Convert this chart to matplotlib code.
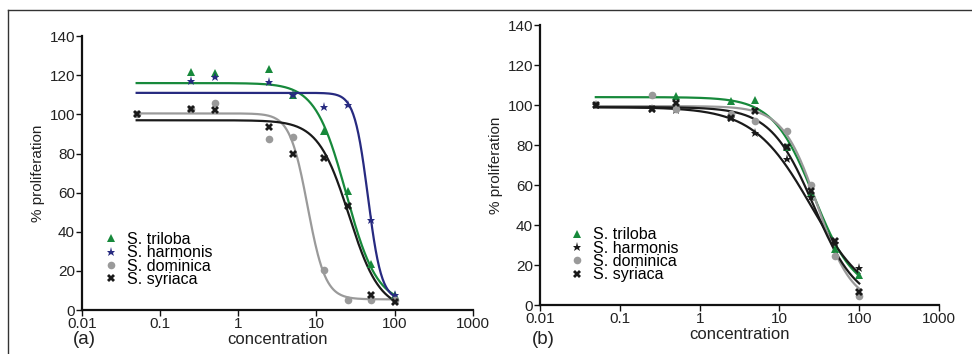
import matplotlib
matplotlib.use("Agg")
import matplotlib.pyplot as plt
from matplotlib.lines import Line2D
from matplotlib.ticker import FixedLocator, FuncFormatter
import numpy as np

plt.rcParams['font.family'] = ['Liberation Sans', 'DejaVu Sans']

concentration = [0.05, 0.25, 0.5, 2.5, 5, 12.5, 25, 50, 100]
species = ["S. triloba", "S. harmonis", "S. dominica", "S. syriaca"]

# panel (a) measured points
a_triloba = [None, 121.5, 121, 123, 110, 91.5, 61, 23.5, 7.5]
a_harmonis = [None, 117, 119, 116.5, 110, 104, 104.6, 46, 7.5]
a_dominica = [100, 103, 106, 87.6, 88.4, 20.4, 5.4, 5, 5]
a_syriaca = [100, 103, 102.4, 93.5, 80, 77.7, 53, 7.6, 4.3]

# panel (b) measured points
b_triloba = [None, None, 104.7, 102, 102.5, 79, 56, 28, 15]
b_harmonis = [100, 98, 97.5, 93.5, 86, 73, 54, 31, 18.5]
b_dominica = [None, 105, 98, 95.5, 92, 87, 60, 24.5, 4.5]
b_syriaca = [100, 98, 101, 93.5, 97, 79, 57, 32, 6.5]

# fitted dose-response parameters: top, bottom, ec50, hill
a_fits = [(116, 3, 24, 2.2), (111, 5, 45.5, 5.0), (100.5, 5.5, 7.7, 3.8), (97, 0, 26, 2.2)]
b_fits = [(104, 5, 27, 1.7), (99, 0, 25, 1.2), (99.5, 0, 30, 2.0), (99, 0, 27, 1.6)]

colors_a = ["#17893b", "#272a80", "#9a9a9a", "#1a1a1a"]
colors_b = ["#17893b", "#1a1a1a", "#9a9a9a", "#1a1a1a"]
markers = ["^", "*", "o", "X"]
msizes = [5.5, 6.5, 5.5, 5.5]


def logistic(x, top, bottom, ec50, hill):
    return bottom + (top - bottom) / (1 + (x / ec50) ** hill)


def draw_panel(ax, points, fits, colors):
    xs = np.logspace(np.log10(concentration[0]), np.log10(concentration[-1]), 300)
    for ys, fit, c, m, ms, name in zip(points, fits, colors, markers, msizes, species):
        ax.plot(xs, logistic(xs, *fit), color=c, lw=1.6, zorder=2)
        px = [x for x, y in zip(concentration, ys) if y is not None]
        py = [y for y in ys if y is not None]
        ax.plot(px, py, linestyle="none", marker=m, color=c, markersize=ms,
                markeredgewidth=0, label=name, zorder=3)

    ax.set_xscale("log")
    ax.set_xlim(0.01, 1000)
    ax.set_ylim(0, 140)
    ax.xaxis.set_major_locator(FixedLocator([0.01, 0.1, 1, 10, 100, 1000]))
    ax.xaxis.set_minor_locator(FixedLocator([]))
    ax.xaxis.set_major_formatter(FuncFormatter(lambda v, p: f"{v:g}"))
    ax.set_yticks(range(0, 141, 20))
    for s in ["top", "right"]:
        ax.spines[s].set_visible(False)
    for s in ["left", "bottom"]:
        ax.spines[s].set_linewidth(1.6)
        ax.spines[s].set_color("#111111")
    ax.tick_params(axis="both", labelsize=11, length=4, width=1, color="#111111",
                   labelcolor="#222222", pad=1)
    ax.set_xlabel("concentration", fontsize=12, color="#222222", labelpad=1)
    ax.set_ylabel("% proliferation", fontsize=11, color="#222222", labelpad=3)


fig = plt.figure(figsize=(9.72, 3.54), dpi=100)
ax_a = fig.add_axes([0.0844, 0.124, 0.402, 0.774])
ax_b = fig.add_axes([0.5556, 0.138, 0.4105, 0.791])

draw_panel(ax_a, [a_triloba, a_harmonis, a_dominica, a_syriaca], a_fits, colors_a)
draw_panel(ax_b, [b_triloba, b_harmonis, b_dominica, b_syriaca], b_fits, colors_b)

for ax, anchor in [(ax_a, (0.106, 0.345)), (ax_b, (0.585, 0.358))]:
    ax.legend(loc="upper left", bbox_to_anchor=anchor, bbox_transform=fig.transFigure,
              frameon=False, fontsize=11.5, handlelength=1.0, handletextpad=0.5,
              labelspacing=-0.1, borderpad=0, borderaxespad=0)

fig.text(0.087, 0.04, "(a)", fontsize=13.5, ha="center", va="center", color="#222222")
fig.text(0.559, 0.04, "(b)", fontsize=13.5, ha="center", va="center", color="#222222")

# outer frame (left and top edges visible)
fig.add_artist(Line2D([0.0082, 0.0082], [0.0, 0.972], transform=fig.transFigure,
                      color="#333333", lw=1.0))
fig.add_artist(Line2D([0.0082, 1.0], [0.972, 0.972], transform=fig.transFigure,
                      color="#333333", lw=1.0))

fig.savefig("out.png", dpi=100)
